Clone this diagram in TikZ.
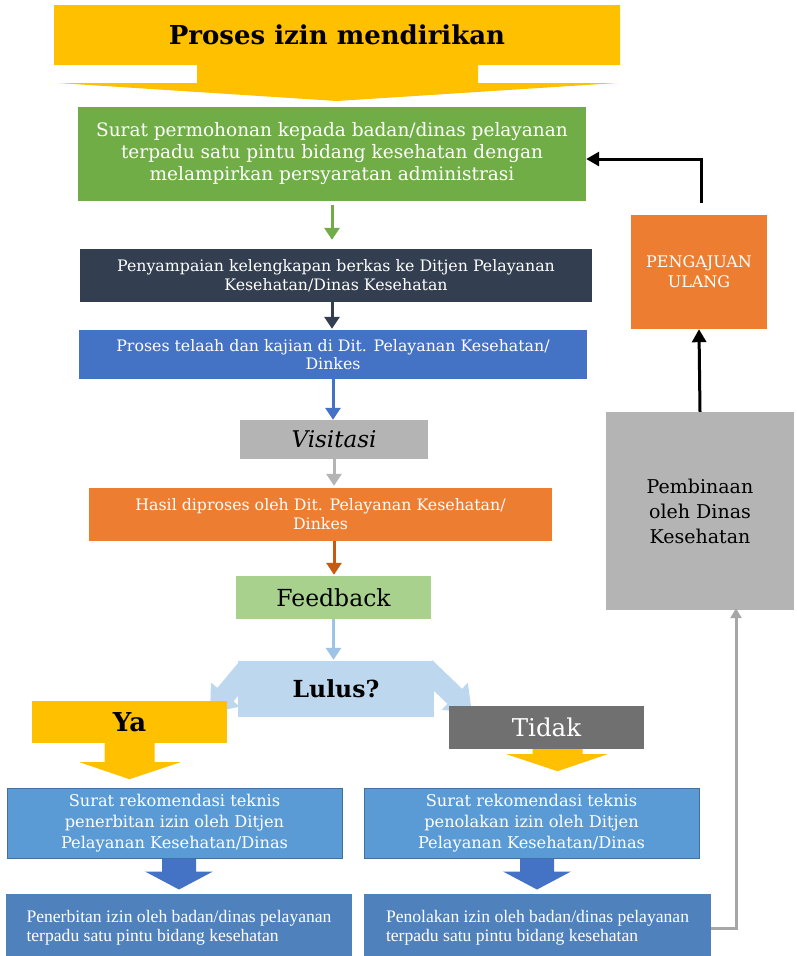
\documentclass[tikz,border=0pt]{standalone}
\usepackage{fontspec}
\setmainfont{DejaVu Serif}
\newfontfamily\narrowserif{Liberation Serif}
\usetikzlibrary{arrows.meta}

\definecolor{bannerYellow}{HTML}{FFC000}
\definecolor{stepGreen}{HTML}{70AD47}
\definecolor{stepNavy}{HTML}{333F50}
\definecolor{stepBlue}{HTML}{4472C4}
\definecolor{stepGray}{HTML}{B4B4B4}
\definecolor{stepOrange}{HTML}{ED7D31}
\definecolor{darkOrange}{HTML}{C55A11}
\definecolor{feedGreen}{HTML}{A9D18E}
\definecolor{skyArrow}{HTML}{9DC3E6}
\definecolor{lulusBlue}{HTML}{BDD7EE}
\definecolor{tidakGray}{HTML}{707070}
\definecolor{recBlue}{HTML}{5B9BD5}
\definecolor{recBorder}{HTML}{41719C}
\definecolor{finalBlue}{HTML}{4F81BD}
\definecolor{loopGray}{HTML}{A6A6A6}

\tikzset{
  stepbox/.style={inner sep=0pt, text=white, align=center},
  flowarrow/.style={line width=3pt, -{Triangle[width=15pt,length=12pt]}},
  backarrow/.style={line width=3pt, black, -{Triangle[width=14pt,length=13pt]}},
  forkarrow/.style={line width=21pt, lulusBlue, -{Triangle[width=36pt,length=24pt]}},
}

\begin{document}
\begin{tikzpicture}[x=1pt,y=-1pt]
\useasboundingbox (0,0) rectangle (797,956);

% banner on top
\fill[bannerYellow] (54,5) -- (620,5) -- (620,65) -- (478,65) -- (478,83) -- (617,83)
  -- (337,101) -- (58,83) -- (197,83) -- (197,65) -- (54,65) -- cycle;
\node[font=\fontsize{26}{30}\selectfont\bfseries] (judul) at (337,35) {Proses izin mendirikan};

% main column
\node[stepbox, fill=stepGreen, minimum width=508, minimum height=94,
  font=\fontsize{18.5}{22}\selectfont] (surat) at (332,154)
  {Surat permohonan kepada badan/dinas pelayanan\\terpadu satu pintu bidang kesehatan dengan\\melampirkan persyaratan administrasi};
\node[stepbox, fill=stepNavy, minimum width=512, minimum height=53,
  font=\fontsize{15.8}{19}\selectfont] (berkas) at (336,275.5)
  {Penyampaian kelengkapan berkas ke Ditjen Pelayanan\\Kesehatan/Dinas Kesehatan};
\node[stepbox, fill=stepBlue, minimum width=508, minimum height=49,
  font=\fontsize{15.8}{18}\selectfont] (telaah) at (333,354.5)
  {Proses telaah dan kajian di Dit. Pelayanan Kesehatan/\\Dinkes};
\node[stepbox, fill=stepGray, text=black, minimum width=188, minimum height=39,
  font=\fontsize{23}{26}\selectfont\itshape] (visitasi) at (334,439.5) {Visitasi};
\node[stepbox, fill=stepOrange, minimum width=463, minimum height=53,
  font=\fontsize{15.8}{19}\selectfont] (hasil) at (320.5,514.5)
  {Hasil diproses oleh Dit. Pelayanan Kesehatan/\\Dinkes};
\node[stepbox, fill=feedGreen, text=black, minimum width=195, minimum height=43,
  font=\fontsize{23.5}{26}\selectfont] (feedback) at (333.5,597.5) {Feedback};

\draw[flowarrow, stepGreen, shorten <=4pt, shorten >=9pt] (surat.south) -- (surat.south |- berkas.north);
\draw[flowarrow, stepNavy, shorten >=1pt] (surat.south |- berkas.south) -- (surat.south |- telaah.north);
\draw[flowarrow, stepBlue] (telaah.south) -- (telaah.south |- visitasi.north);
\draw[flowarrow, stepGray, shorten >=2pt] (visitasi.south) -- (visitasi.south |- hasil.north);
\draw[flowarrow, darkOrange, shorten >=1pt] (visitasi.south |- hasil.south) -- (visitasi.south |- feedback.north);

% decision
\node[stepbox, fill=lulusBlue, text=black, minimum width=196, minimum height=56,
  font=\fontsize{23.5}{26}\selectfont\bfseries] (lulus) at (336,689) {Lulus?};
\draw[flowarrow, skyArrow, shorten >=1pt] (feedback.south) -- (feedback.south |- lulus.north);
\coordinate (yaTip) at (210,713);
\coordinate (tidakTip) at (472,713);
\draw[forkarrow] ([xshift=10pt,yshift=-7pt]lulus.north west) -- (yaTip);
\draw[forkarrow] ([xshift=-9pt,yshift=-7pt]lulus.north east) -- (tidakTip);

\node[stepbox, fill=bannerYellow, text=black, minimum width=195, minimum height=42,
  font=\fontsize{26}{28}\selectfont\bfseries] (ya) at (129.5,722) {Ya};
\fill[bannerYellow, shift={(ya.south)}] (-25,0) -- (25,0) -- (25,19) -- (51,19) -- (0,36)
  -- (-50,19) -- (-25,19) -- cycle;
\node[stepbox, fill=tidakGray, minimum width=195, minimum height=43,
  font=\fontsize{24.5}{27}\selectfont] (tidak) at (546.5,727.5) {Tidak};
\fill[bannerYellow, shift={([xshift=11pt]tidak.south)}] (-25,0) -- (25,0) -- (25,5) -- (50,5)
  -- (0,22) -- (-51,5) -- (-25,5) -- cycle;

% recommendations
\node[stepbox, fill=recBlue, draw=recBorder, line width=1pt, minimum width=335, minimum height=70,
  font=\fontsize{16.2}{21}\selectfont] (rekYa) at (174.5,823)
  {Surat rekomendasi teknis\\penerbitan izin oleh Ditjen\\Pelayanan Kesehatan/Dinas};
\node[stepbox, fill=recBlue, draw=recBorder, line width=1pt, minimum width=335, minimum height=70,
  font=\fontsize{16.2}{21}\selectfont] (rekTidak) at (531.5,823)
  {Surat rekomendasi teknis\\penolakan izin oleh Ditjen\\Pelayanan Kesehatan/Dinas};

\node[stepbox, fill=finalBlue, align=left, minimum width=346,
  minimum height=68, font=\narrowserif\fontsize{17.6}{19.5}\selectfont] (terbit) at (179,928)
  {Penerbitan izin oleh badan/dinas pelayanan\\terpadu satu pintu bidang kesehatan};
\node[stepbox, fill=finalBlue, align=left, minimum width=347,
  minimum height=68, font=\narrowserif\fontsize{17.6}{19.5}\selectfont] (tolak) at (537.5,928)
  {Penolakan izin oleh badan/dinas pelayanan\\terpadu satu pintu bidang kesehatan};

\fill[stepBlue, shift={([xshift=4.5pt]rekYa.south)}] (-17,0) -- (17,0) -- (17,13) -- (34,13)
  -- (0,31) -- (-34,13) -- (-17,13) -- cycle;
\fill[stepBlue, shift={([xshift=5.5pt]rekTidak.south)}] (-17,0) -- (17,0) -- (17,13) -- (34,13)
  -- (0,31) -- (-34,13) -- (-17,13) -- cycle;

% right side loop
\node[stepbox, fill=stepGray, text=black, minimum width=188, minimum height=198,
  font=\fontsize{19}{25}\selectfont] (pembinaan) at (700,511)
  {Pembinaan\\oleh Dinas\\Kesehatan};
\node[stepbox, fill=stepOrange, minimum width=136, minimum height=114,
  font=\fontsize{16}{20}\selectfont] (ulang) at (699,272) {PENGAJUAN\\ULANG};

\draw[line width=3pt, loopGray, -{Triangle[width=11pt,length=10pt]}]
  (tolak.east) -| ([xshift=36pt,yshift=2pt]pembinaan.south);
\draw[backarrow] (pembinaan.north) -- (ulang.south);
\draw[backarrow, shorten <=12pt] ([xshift=2pt]ulang.north) |- ([yshift=-5pt]surat.east);
\end{tikzpicture}
\end{document}
